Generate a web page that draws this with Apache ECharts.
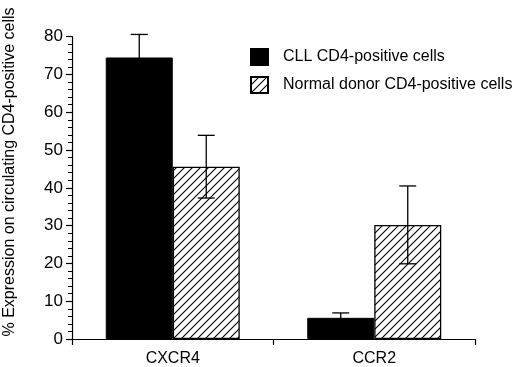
<!DOCTYPE html>
<html>
<head>
<meta charset="utf-8">
<script src="https://cdn.jsdelivr.net/npm/echarts@6/dist/echarts.min.js"></script>
<style>html,body{margin:0;padding:0;background:#fff}#c{width:520px;height:367px}</style>
</head>
<body>
<div id="c"></div>
<script>
const categories = ['CXCR4', 'CCR2'];
const seriesNames = ['CLL CD4-positive cells', 'Normal donor CD4-positive cells'];
const cllValues = [74.5, 5.6];
const cllErrors = [6.1, 1.3];
const normalValues = [45.6, 30.2];
const normalErrors = [8.3, 10.3];
const yTicks = [0, 10, 20, 30, 40, 50, 60, 70, 80];
const yTitle = '% Expression on circulating CD4-positive cells';

const FONT = '"Liberation Sans", Arial, sans-serif';

function hatchPattern() {
  const s = 8;
  const cv = document.createElement('canvas');
  cv.width = s; cv.height = s;
  const ctx = cv.getContext('2d');
  ctx.fillStyle = '#fff';
  ctx.fillRect(0, 0, s, s);
  ctx.strokeStyle = '#000';
  ctx.lineWidth = 1.1;
  ctx.beginPath();
  ctx.moveTo(-1, s + 1); ctx.lineTo(s + 1, -1);
  ctx.moveTo(-1, 1); ctx.lineTo(1, -1);
  ctx.moveTo(s - 1, s + 1); ctx.lineTo(s + 1, s - 1);
  ctx.stroke();
  return cv;
}

const chart = echarts.init(document.getElementById('c'), null, {renderer: 'canvas'});
const BAR_W = 67;

const errData = [];
categories.forEach((c, i) => {
  errData.push([i, cllValues[i], cllErrors[i], 0]);
  errData.push([i, normalValues[i], normalErrors[i], 1]);
});

chart.setOption({
  animation: false,
  backgroundColor: '#fff',
  textStyle: {fontFamily: FONT, color: '#000'},
  grid: {left: 72, right: 45, top: 36.7, bottom: 27, containLabel: false},
  legend: {
    orient: 'vertical',
    left: 245,
    top: 43,
    icon: 'rect',
    itemWidth: 17,
    itemHeight: 16,
    itemGap: 10,
    data: seriesNames,
    textStyle: {fontFamily: FONT, fontSize: 16, color: '#000', padding: [0, 0, 0, 10]}
  },
  xAxis: {
    type: 'category',
    data: categories,
    axisLine: {lineStyle: {color: '#000', width: 1.2}},
    axisTick: {show: true, length: 6, lineStyle: {color: '#000', width: 1.2}},
    axisLabel: {fontFamily: FONT, fontSize: 16, color: '#000', margin: 12},
    splitLine: {show: false}
  },
  yAxis: {
    type: 'value',
    min: 0, max: 80, interval: 10,
    axisLine: {show: true, lineStyle: {color: '#000', width: 1.2}},
    axisTick: {show: true, length: 6, lineStyle: {color: '#000', width: 1.2}},
    minorTick: {show: true, splitNumber: 5, length: 4, lineStyle: {color: '#000', width: 1}},
    axisLabel: {fontFamily: FONT, fontSize: 17, color: '#000', margin: 9,
      formatter: v => yTicks.includes(v) ? String(v) : ''},
    splitLine: {show: false}
  },
  graphic: [{
    type: 'text',
    x: 10, y: 172,
    rotation: Math.PI / 2,
    style: {text: yTitle, font: '16px ' + FONT, fill: '#000', textAlign: 'center', textVerticalAlign: 'middle'}
  }],
  series: [
    {
      name: seriesNames[0], type: 'bar', data: cllValues, barWidth: BAR_W, barGap: '0%',
      itemStyle: {color: '#000', borderColor: '#000', borderWidth: 1}
    },
    {
      name: seriesNames[1], type: 'bar', data: normalValues, barWidth: BAR_W, barGap: '0%',
      itemStyle: {color: {image: hatchPattern(), repeat: 'repeat'}, borderColor: '#000', borderWidth: 1.3}
    },
    {
      type: 'custom',
      data: errData,
      z: 10,
      silent: true,
      renderItem: function (params, api) {
        const cat = api.value(0), mean = api.value(1), err = api.value(2), si = api.value(3);
        const center = api.coord([cat, mean]);
        const x = center[0] + (si === 0 ? -BAR_W / 2 : BAR_W / 2);
        const top = api.coord([cat, mean + err])[1];
        const bot = api.coord([cat, mean - err])[1];
        const hw = 8.5;
        const st = {stroke: '#000', lineWidth: 1.3};
        return {
          type: 'group',
          children: [
            {type: 'line', shape: {x1: x, y1: top, x2: x, y2: bot}, style: st},
            {type: 'line', shape: {x1: x - hw, y1: top, x2: x + hw, y2: top}, style: st},
            {type: 'line', shape: {x1: x - hw, y1: bot, x2: x + hw, y2: bot}, style: st}
          ]
        };
      }
    }
  ]
});
</script>
</body>
</html>
